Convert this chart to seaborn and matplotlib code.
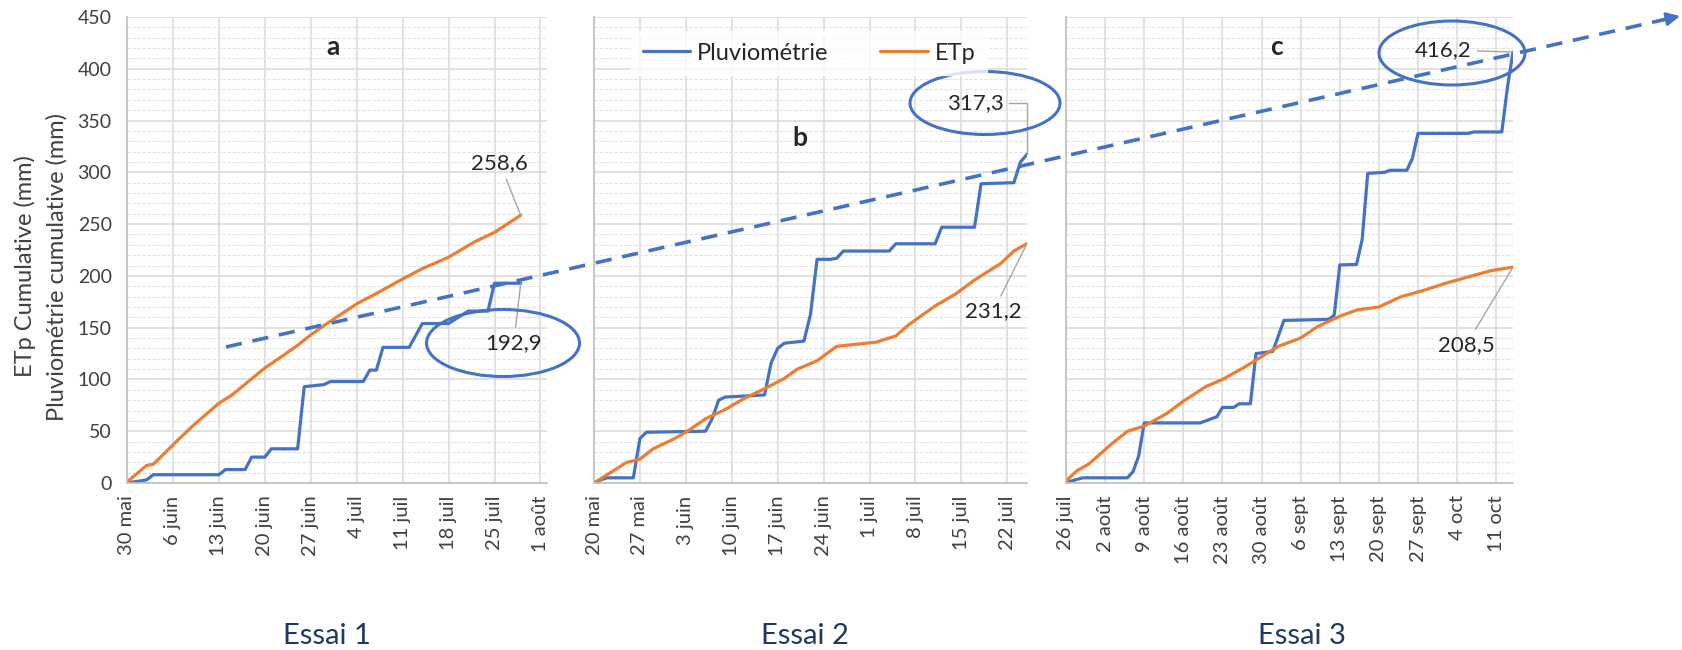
import numpy as np
import pandas as pd
import matplotlib.pyplot as plt
import seaborn as sns
from matplotlib.patches import Ellipse
from matplotlib.lines import Line2D

# Essai 1 (a)
rain_a_dates = ["2019-05-30", "2019-06-02", "2019-06-03", "2019-06-13", "2019-06-14", "2019-06-17",
                "2019-06-18", "2019-06-20", "2019-06-21", "2019-06-25", "2019-06-26", "2019-06-29",
                "2019-06-30", "2019-07-05", "2019-07-06", "2019-07-07", "2019-07-08", "2019-07-12",
                "2019-07-14", "2019-07-18", "2019-07-21", "2019-07-24", "2019-07-25", "2019-07-29"]
rain_a = [0, 3, 8, 8, 13, 13, 25, 25, 33, 33, 93, 95, 98, 98, 109, 109, 131, 131,
          154, 154, 166, 166, 192.9, 192.9]
etp_a_dates = ["2019-05-30", "2019-06-02", "2019-06-03", "2019-06-07", "2019-06-09", "2019-06-13",
               "2019-06-15", "2019-06-20", "2019-06-23", "2019-06-25", "2019-06-27", "2019-06-29",
               "2019-07-04", "2019-07-07", "2019-07-11", "2019-07-14", "2019-07-18", "2019-07-22",
               "2019-07-25", "2019-07-29"]
etp_a = [1, 17, 18, 43, 55, 77, 85, 111, 124, 133, 143, 152, 173, 183, 197, 207, 218, 233, 242, 258.6]

# Essai 2 (b)
rain_b_dates = ["2019-05-20", "2019-05-21", "2019-05-22", "2019-05-26", "2019-05-27", "2019-05-28",
                "2019-06-06", "2019-06-07", "2019-06-08", "2019-06-09", "2019-06-15", "2019-06-16",
                "2019-06-17", "2019-06-18", "2019-06-21", "2019-06-22", "2019-06-23", "2019-06-25",
                "2019-06-26", "2019-06-27", "2019-07-04", "2019-07-05", "2019-07-11", "2019-07-12",
                "2019-07-17", "2019-07-18", "2019-07-23", "2019-07-24", "2019-07-25"]
rain_b = [0, 3, 5, 5, 43, 49, 50, 62, 80, 83, 85, 116, 130, 135, 137, 163, 216, 216,
          217, 224, 224, 231, 231, 247, 247, 289, 290, 310, 317.3]
etp_b_dates = ["2019-05-20", "2019-05-25", "2019-05-27", "2019-05-29", "2019-06-01", "2019-06-03",
               "2019-06-06", "2019-06-09", "2019-06-12", "2019-06-15", "2019-06-18", "2019-06-20",
               "2019-06-23", "2019-06-26", "2019-06-29", "2019-07-02", "2019-07-05", "2019-07-07",
               "2019-07-11", "2019-07-14", "2019-07-17", "2019-07-21", "2019-07-23", "2019-07-25"]
etp_b = [0, 20, 23, 33, 42, 49, 62, 71, 82, 91, 101, 110, 118, 132, 134, 136, 142, 153,
         171, 182, 196, 212, 224, 231.2]

# Essai 3 (c)
rain_c_dates = ["2019-07-26", "2019-07-27", "2019-07-29", "2019-08-06", "2019-08-07", "2019-08-08",
                "2019-08-09", "2019-08-19", "2019-08-20", "2019-08-22", "2019-08-23", "2019-08-25",
                "2019-08-26", "2019-08-28", "2019-08-29", "2019-09-01", "2019-09-03", "2019-09-11",
                "2019-09-12", "2019-09-13", "2019-09-16", "2019-09-17", "2019-09-18", "2019-09-21",
                "2019-09-22", "2019-09-25", "2019-09-26", "2019-09-27", "2019-10-06", "2019-10-07",
                "2019-10-12", "2019-10-13", "2019-10-14"]
rain_c = [0, 2, 5, 5, 11, 26, 58, 58, 60, 64, 73, 73, 76.5, 76.5, 125, 127, 157, 158,
          162, 210.6, 211, 235, 299, 300, 302, 302, 313.5, 337.6, 337.6, 339, 339, 382, 416.2]
etp_c_dates = ["2019-07-26", "2019-07-28", "2019-07-30", "2019-08-03", "2019-08-06", "2019-08-09",
               "2019-08-13", "2019-08-16", "2019-08-20", "2019-08-23", "2019-08-27", "2019-08-30",
               "2019-09-02", "2019-09-06", "2019-09-09", "2019-09-13", "2019-09-16", "2019-09-20",
               "2019-09-24", "2019-09-28", "2019-10-02", "2019-10-06", "2019-10-10", "2019-10-14"]
etp_c = [2, 12, 18, 37, 50, 55, 67, 79, 93, 100, 112, 122, 132, 140, 151, 161, 167, 170,
         180, 186, 193, 199, 205, 208.5]

# ticks
labels_a = ["30 mai", "6 juin", "13 juin", "20 juin", "27 juin", "4 juil", "11 juil", "18 juil", "25 juil", "1 août"]
labels_b = ["20 mai", "27 mai", "3 juin", "10 juin", "17 juin", "24 juin", "1 juil", "8 juil", "15 juil", "22 juil"]
labels_c = ["26 juil", "2 août", "9 août", "16 août", "23 août", "30 août", "6 sept", "13 sept",
            "20 sept", "27 sept", "4 oct", "11 oct"]

BLUE = "#4472C4"
ORANGE = "#ED7D31"
W, H = 1683, 650

sns.set_theme(style="white")
plt.rcParams['font.family'] = ['Lato', 'DejaVu Sans']

fig = plt.figure(figsize=(W / 100, H / 100), dpi=100)


def px_axes(left, right, top, bottom):
    return fig.add_axes([left / W, 1 - bottom / H, (right - left) / W, (bottom - top) / H])


panels = [
    ("a", px_axes(127, 547, 17, 483), rain_a_dates, rain_a, etp_a_dates, etp_a, labels_a,
     ("2019-05-30", "2019-08-02")),
    ("b", px_axes(594, 1027, 17, 483), rain_b_dates, rain_b, etp_b_dates, etp_b, labels_b,
     ("2019-05-20", "2019-07-25")),
    ("c", px_axes(1066, 1513, 17, 483), rain_c_dates, rain_c, etp_c_dates, etp_c, labels_c,
     ("2019-07-26", "2019-10-14")),
]

axes = {}
for name, ax, rd, rv, ed, ev, labs, lims in panels:
    axes[name] = ax
    rain_df = pd.DataFrame({"date": pd.to_datetime(rd), "mm": rv})
    etp_df = pd.DataFrame({"date": pd.to_datetime(ed), "mm": ev})
    sns.lineplot(data=rain_df, x="date", y="mm", ax=ax, color=BLUE, lw=2.3, label="Pluviométrie")
    sns.lineplot(data=etp_df, x="date", y="mm", ax=ax, color=ORANGE, lw=2.3, label="ETp")
    ax.get_legend().remove()

    ticks = pd.date_range(lims[0], periods=len(labs), freq="7D")
    ax.set_xticks(ticks)
    ax.set_xticklabels(labs, rotation=90, fontsize=14.5, color="#404040")
    ax.set_xlim(pd.Timestamp(lims[0]), pd.Timestamp(lims[1]))
    ax.set_ylim(0, 450)
    ax.set_yticks(np.arange(0, 451, 50))
    ax.set_yticks(np.arange(0, 451, 10), minor=True)
    ax.grid(which="major", color="#D9D9D9", lw=1.1)
    ax.grid(which="minor", axis="y", color="#E3E3E3", lw=0.8, linestyle=(0, (3, 1.5)))
    ax.tick_params(axis="x", length=0, pad=9)
    ax.tick_params(axis="y", which="major", length=5, color="#BFBFBF", direction="out", labelsize=14,
                   labelcolor="#404040", pad=6)
    ax.tick_params(which="minor", length=0)
    for s in ["top", "right"]:
        ax.spines[s].set_visible(False)
    for s in ["left", "bottom"]:
        ax.spines[s].set_color("#BFBFBF")
        ax.spines[s].set_linewidth(1.2)
    ax.set_xlabel("")
    ax.set_ylabel("")
    ax.set_facecolor("white")
    if name != "a":
        ax.set_yticklabels([])

# panel letters
for txt, (x, y) in zip(["a", "b", "c"], [(333, 47), (800, 138), (1277, 47)]):
    fig.text(x / W, 1 - y / H, txt, fontsize=19, fontweight="bold", ha="center", va="center")

# y label
fig.text(25 / W, 1 - 266 / H, "ETp Cumulative (mm)", rotation=90, fontsize=17, ha="center", va="center",
         color="#404040")
fig.text(57 / W, 1 - 267 / H, "Pluviométrie cumulative (mm)", rotation=90, fontsize=17, ha="center",
         va="center", color="#404040")

# legend
handles = [Line2D([], [], color=BLUE, lw=2.3), Line2D([], [], color=ORANGE, lw=2.3)]
leg = fig.legend(handles, ["Pluviométrie", "ETp"], loc="center", bbox_to_anchor=(809 / W, 1 - 53 / H),
                 ncol=2, frameon=True, fontsize=17, handlelength=2.0, columnspacing=2.2,
                 handletextpad=0.3, borderpad=0.5)
leg.get_frame().set_facecolor("white")
leg.get_frame().set_edgecolor("white")
for t in leg.get_texts():
    t.set_color("#262626")

# end-value labels
ann = [
    (axes["a"], etp_a_dates, etp_a, "258,6", (-21, 52), "arc3"),
    (axes["a"], rain_a_dates, rain_a, "192,9", (-7, -60), "arc3"),
    (axes["b"], rain_b_dates, rain_b, "317,3", (-52, 51), "angle,angleA=0,angleB=90,rad=0"),
    (axes["b"], etp_b_dates, etp_b, "231,2", (-34, -68), "arc3"),
    (axes["c"], rain_c_dates, rain_c, "416,2", (-70, 2), "arc3"),
    (axes["c"], etp_c_dates, etp_c, "208,5", (-47, -78), "arc3"),
]
for ax, d, v, txt, off, cs in ann:
    ax.annotate(txt, xy=(pd.Timestamp(d[-1]), v[-1]), xytext=off, textcoords="offset pixels",
                fontsize=16, ha="center", va="center", color="#262626", annotation_clip=False,
                arrowprops=dict(arrowstyle="-", color="#A6A6A6", lw=1, connectionstyle=cs,
                                shrinkA=2, shrinkB=0))

# ellipses
for cx, cy, w, h in [(503, 343, 153, 67), (985, 103, 150, 63), (1452, 53, 146, 64)]:
    fig.add_artist(Ellipse((cx / W, 1 - cy / H), w / W, h / H, transform=fig.transFigure,
                           fill=False, edgecolor=BLUE, lw=2.2))

# dashed trend arrow
x0, y0, x1, y1 = 226, 347, 1680, 16
fig.add_artist(Line2D([x0 / W, (x1 - 14) / W], [1 - y0 / H, 1 - (y1 + 3.2) / H], transform=fig.transFigure,
                      color=BLUE, lw=2.6, linestyle=(0, (4.5, 3))))
axes["a"].annotate("", xy=(x1, H - y1), xytext=(x1 - 20, H - y1 - 4.5), xycoords="figure pixels",
                   textcoords="figure pixels", annotation_clip=False,
                   arrowprops=dict(arrowstyle="-|>", color=BLUE, lw=2, mutation_scale=20, shrinkA=0, shrinkB=0))

# essai labels
for txt, x in zip(["Essai 1", "Essai 2", "Essai 3"], [327, 805, 1302]):
    fig.text(x / W, 1 - 636 / H, txt, fontsize=21, color="#1F3864", ha="center", va="center")

fig.savefig("out.png", dpi=100, facecolor="white")
